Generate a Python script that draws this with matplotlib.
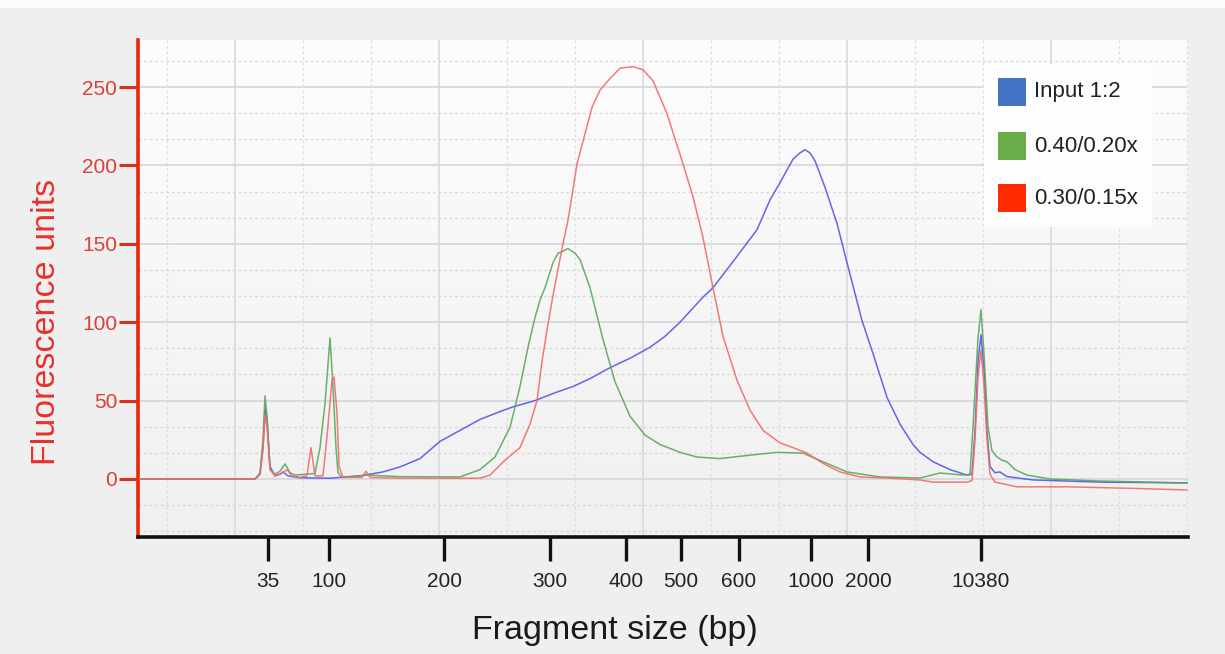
import matplotlib
matplotlib.use('Agg')
import matplotlib.pyplot as plt
import numpy as np
from matplotlib.colors import LinearSegmentedColormap
from matplotlib.patches import Rectangle

plt.rcParams['font.family'] = ['Liberation Sans', 'DejaVu Sans']

# ---------------- data (migration position units, fluorescence units) ----------------
tick_pos = [13.0, 19.1, 30.6, 41.2, 48.8, 54.3, 60.1, 67.3, 73.0, 84.3]
tick_labels = ['35', '100', '200', '300', '400', '500', '600', '1000', '2000', '10380']

series_names = ['Input 1:2', '0.40/0.20x', '0.30/0.15x']

blue_pos = [0.2, 11.7, 12.2, 12.5, 12.7, 12.9, 13.2, 13.7, 14.2, 14.5, 15.0, 16.2, 19.2,
            22.2, 24.5, 26.2, 28.2, 30.2, 32.2, 34.2, 36.2, 37.5, 39.7, 41.7, 43.5, 45.2,
            47.2, 49.2, 51.2, 52.7, 54.2, 56.5, 57.5, 59.9, 61.9, 63.2, 64.2, 65.5, 66.2, 66.7,
            67.2, 67.7, 68.7, 69.9, 70.9, 72.4, 73.5, 74.9, 76.2, 77.5, 78.2, 79.5, 81.2, 82.9,
            83.4, 83.7, 84.0, 84.3, 84.6, 84.9, 85.2, 85.7, 86.2, 86.9, 89.5, 96.2, 104.9]
blue_fu = [0, 0, 3, 20, 45, 38, 8, 2, 3, 4.5, 2, 0.8, 0.5,
           2, 4.5, 7.7, 13, 24, 31, 38, 43, 46, 50, 55, 59, 64,
           71, 77, 84, 91, 100, 116, 122, 142, 159, 178, 189, 204, 208, 210,
           208, 203, 186, 163, 138, 101, 80, 52, 35, 22, 17, 11, 6, 2.5,
           3, 30, 75, 92, 70, 30, 8, 4, 4.5, 1.5, -0.6, -2, -2.5]

green_pos = [0.2, 11.7, 12.2, 12.5, 12.7, 12.9, 13.2, 13.7, 14.2, 14.7, 15.2, 15.7, 16.7,
             17.7, 18.2, 18.7, 19.2, 19.5, 19.8, 20.0, 20.4, 22.9, 26.2, 32.2, 34.2, 35.7,
             37.2, 38.2, 39.0, 39.7, 40.2, 40.7, 41.5, 42.0, 42.4, 43.0, 43.7, 44.2, 45.2, 46.5,
             47.7, 49.2, 50.7, 52.2, 54.2, 55.9, 58.2, 60.9, 63.9, 66.5, 68.5, 70.9, 74.2,
             78.2, 80.2, 82.5, 83.2, 83.5, 84.0, 84.3, 84.6, 85.0, 85.4, 85.9, 86.4, 86.9,
             87.7, 88.9, 91.2, 96.2, 104.9]
green_fu = [0, 0, 4, 25, 53, 40, 6, 3, 5, 9.6, 4, 2.5, 3,
            3.5, 20, 48, 90, 59, 20, 4, 1, 2.5, 1.5, 1.3, 6, 14,
            33, 59, 84, 103, 114, 122, 138, 144, 145, 147, 144, 140, 122, 89,
            62, 40, 28, 22, 17, 14, 13, 15, 17, 16.5, 11, 4.5, 1.3,
            0.6, 3.8, 2.5, 3, 33, 90, 108, 80, 33, 18, 14, 12, 11,
            6, 2.5, 0, -1.3, -2.5]

red_pos = [0.2, 11.7, 12.2, 12.5, 12.7, 12.9, 13.2, 13.7, 14.5, 14.9, 15.4, 16.2, 16.9,
           17.3, 17.7, 18.5, 18.9, 19.4, 19.6, 19.9, 20.1, 20.5, 22.4, 22.8, 23.2, 26.2,
           34.2, 35.2, 36.7, 38.2, 39.2, 39.9, 40.4, 40.9, 41.5, 42.4, 43.0, 43.9, 45.4,
           46.2, 47.0, 48.2, 49.5, 50.5, 51.5, 52.9, 54.5, 55.5, 56.5, 57.5, 58.5, 59.9,
           61.2, 62.5, 64.2, 65.5, 66.9, 68.5, 70.2, 72.2, 74.9, 78.2, 79.5, 82.9, 83.4,
           83.7, 84.0, 84.3, 84.6, 84.9, 85.2, 85.7, 87.9, 92.9, 99.5, 104.9]
red_fu = [0, 0, 3, 20, 41, 33, 6, 2, 4, 6, 2, 1, 2,
          20, 2, 2, 27, 63, 65, 42, 8, 1, 1, 5, 1, 0.5,
          0.5, 2.5, 12, 20, 35, 50, 75, 95, 117, 147, 165, 201, 237,
          248, 254, 262, 263, 261, 254, 233, 201, 180, 154, 122, 91, 63,
          44, 31, 23, 20, 16.5, 10, 4.5, 1.3, 0.6, -0.6, -2, -2, -1,
          25, 65, 82, 60, 25, 3, -2, -5, -5, -6, -7]

# ---------------- figure ----------------
W, H = 1225, 654
fig = plt.figure(figsize=(W / 100, H / 100), dpi=100, facecolor='#efefef')


def fx(px):
    return px / W


def fy(py):
    return 1 - py / H


fig.add_artist(Rectangle((0, fy(8)), 1, fy(0) - fy(8), transform=fig.transFigure,
                         facecolor='#fbfbfb', edgecolor='none', zorder=0))

ax = fig.add_axes([138 / W, 1 - 537 / H, 1050 / W, 497 / H])
ax.set_xlim(0, 105)
ax.set_ylim(-37, 280)
ax.set_facecolor('#f4f4f4')

bg = LinearSegmentedColormap.from_list('bg', ['#f0f0f0', '#fdfdfd'])
grad = np.linspace(1, 0, 256).reshape(-1, 1)
ax.imshow(grad, aspect='auto', extent=[0, 105, -37, 280], cmap=bg, origin='upper', zorder=0)

# grid
step_y = 50 / 3
for k in range(-2, 17):
    yv = k * step_y
    if k % 3 == 0:
        ax.axhline(yv, color='#d2d3da', lw=1.1, zorder=1)
    else:
        ax.axhline(yv, color='#d9d9d9', lw=1.0, ls=(0, (2, 2)), zorder=1)
for k in range(16):
    xv = 2.9 + 6.8 * k
    if xv > 105:
        break
    if k % 3 == 1:
        ax.axvline(xv, color='#d6d7de', lw=1.1, zorder=1)
    else:
        ax.axvline(xv, color='#dedede', lw=1.0, ls=(0, (2, 2)), zorder=1)

# curves
ax.plot(blue_pos, blue_fu, color='#5555e6', lw=1.1, alpha=0.9, zorder=3)
ax.plot(green_pos, green_fu, color='#5aa85a', lw=1.1, alpha=0.9, zorder=3)
ax.plot(red_pos, red_fu, color='#f26b6b', lw=1.1, alpha=0.9, zorder=4)

# spines
for s in ['top', 'right']:
    ax.spines[s].set_visible(False)
ax.spines['left'].set_color('#e8260c')
ax.spines['left'].set_linewidth(2.6)
ax.spines['bottom'].set_color('#111111')
ax.spines['bottom'].set_linewidth(2.6)

ax.set_yticks([0, 50, 100, 150, 200, 250])
ax.tick_params(axis='y', direction='out', length=14, width=2.2, color='#d8321e',
               labelcolor='#d9403a', labelsize=15, pad=1)
ax.set_xticks(tick_pos, tick_labels)
ax.tick_params(axis='x', direction='out', length=17, width=2.4, color='#111111',
               labelcolor='#222222', labelsize=15, pad=8)

ax.set_ylabel('Fluorescence units', fontsize=24.5, color='#e8302a')
ax.yaxis.set_label_coords((62 - 138) / 1050, (537 - 322) / 497)
ax.set_xlabel('Fragment size (bp)', fontsize=24.5, color='#1a1a1a')
ax.xaxis.set_label_coords((615 - 138) / 1050, (537 - 615) / 497)
ax.xaxis.label.set_va('top')

# legend (drawn manually)
fig.add_artist(Rectangle((fx(984), fy(227)), fx(1152) - fx(984), fy(64) - fy(227),
                         transform=fig.transFigure, facecolor='#fdfdfd', edgecolor='none', zorder=5))
leg_colors = ['#4472c4', '#6aac47', '#ff2a00']
leg_centers = [92, 146, 198]
for name, col, cy in zip(series_names, leg_colors, leg_centers):
    fig.add_artist(Rectangle((fx(998), fy(cy + 14)), fx(28), fy(0) - fy(28),
                             transform=fig.transFigure, facecolor=col, edgecolor='none', zorder=6))
    fig.text(fx(1034), fy(cy), name, fontsize=16, color='#222222', va='center', ha='left', zorder=7)

fig.savefig('out.png', dpi=100, facecolor=fig.get_facecolor())
